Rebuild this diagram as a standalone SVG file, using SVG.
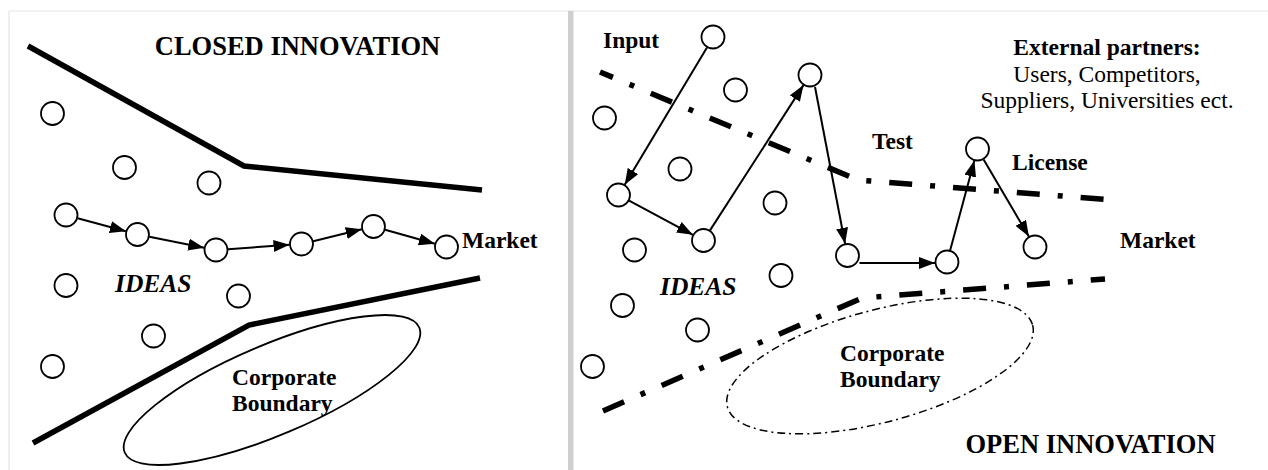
<svg xmlns="http://www.w3.org/2000/svg" width="1268" height="470" viewBox="0 0 1268 470">
<style>
.t{font-family:"Liberation Serif","Times New Roman",serif;fill:#000}
.b{font-weight:bold;font-size:23.5px}
.ti{font-weight:bold;font-size:26.5px}
.it{font-weight:bold;font-style:italic;font-size:25.5px}
.r{font-size:23.5px}
.n{fill:#fff;stroke:#000;stroke-width:1.8}
.c{stroke:#000;stroke-width:2;fill:none;marker-end:url(#ah)}
.thick{stroke:#000;stroke-width:5.5;fill:none;stroke-linejoin:miter}
.dd{stroke:#000;stroke-width:5.5;fill:none;stroke-dasharray:23 18 5 18;stroke-linejoin:round}
</style>
<defs>
<marker id="ah" markerUnits="userSpaceOnUse" markerWidth="16" markerHeight="12" refX="16" refY="6" orient="auto">
<path d="M0,0 L16,6 L0,12 z" fill="#000"/>
</marker>
</defs>
<rect width="1268" height="470" fill="#fff"/>
<g id="frame">
<line x1="9" y1="11" x2="1268" y2="11" stroke="#e4e4e4" stroke-width="1.2"/>
<line x1="9" y1="11" x2="9" y2="470" stroke="#e4e4e4" stroke-width="1.2"/>
<rect x="568" y="11" width="5.5" height="459" fill="#cfcfcf"/>
</g>
<g id="closed-boundaries">
<path class="thick" d="M28,46 L244,166 L482,190"/>
<path class="thick" d="M33,443 L249,325 L480,278"/>
<ellipse cx="272" cy="390" rx="160" ry="45" transform="rotate(-23 272 390)" fill="none" stroke="#000" stroke-width="1.8"/>
</g>
<g id="open-boundaries">
<path class="dd" d="M600,72 L858,180 L1113,200" stroke-dashoffset="9"/>
<path class="dd" d="M603,411 L862,298 L1105,279"/>
<ellipse cx="880" cy="366" rx="158" ry="56" transform="rotate(-15 880 366)" fill="none" stroke="#000" stroke-width="1.5" stroke-dasharray="8 4 2 4"/>
</g>
<g id="connectors">
<line class="c" x1="77.6" y1="218.2" x2="125.9" y2="231.3"/>
<line class="c" x1="149.3" y1="236.8" x2="204.2" y2="247.7"/>
<line class="c" x1="228" y1="249.2" x2="289.5" y2="244.8"/>
<line class="c" x1="313.2" y1="241.2" x2="361.8" y2="229.3"/>
<line class="c" x1="385.1" y1="229.7" x2="434.9" y2="243.8"/>
<line class="c" x1="707" y1="47.5" x2="624.7" y2="184.7"/>
<line class="c" x1="629.1" y1="200.7" x2="692.9" y2="234.8"/>
<line class="c" x1="710" y1="230.4" x2="803.5" y2="85.1"/>
<line class="c" x1="815" y1="87" x2="845.1" y2="243.8"/>
<line class="c" x1="859.5" y1="263" x2="935" y2="263"/>
<line class="c" x1="950.1" y1="250.4" x2="974.4" y2="160.6"/>
<line class="c" x1="983.6" y1="159.4" x2="1028.9" y2="236.6"/>
</g>
<g id="closed-nodes">
<circle id="c1" class="n" cx="52.5" cy="113.5" r="11.5"/>
<circle id="c2" class="n" cx="124.5" cy="167.5" r="11.5"/>
<circle id="c3" class="n" cx="209" cy="183" r="11.5"/>
<circle id="c4" class="n" cx="66" cy="215" r="11.5"/>
<circle id="c5" class="n" cx="137.5" cy="234.5" r="11.5"/>
<circle id="c6" class="n" cx="216" cy="250" r="11.5"/>
<circle id="c7" class="n" cx="301.5" cy="244" r="11.5"/>
<circle id="c8" class="n" cx="373.5" cy="226.5" r="11.5"/>
<circle id="c9" class="n" cx="446.5" cy="247" r="11.5"/>
<circle id="c10" class="n" cx="66" cy="285.5" r="11.5"/>
<circle id="c11" class="n" cx="238.5" cy="296" r="11.5"/>
<circle id="c12" class="n" cx="153.5" cy="336" r="11.5"/>
<circle id="c13" class="n" cx="52.5" cy="366.5" r="11.5"/>
</g>
<g id="open-nodes">
<circle id="o1" class="n" cx="713" cy="37" r="11.5"/>
<circle id="o2" class="n" cx="604.5" cy="118" r="11.5"/>
<circle id="o3" class="n" cx="735.5" cy="90" r="11.5"/>
<circle id="o4" class="n" cx="810" cy="75" r="11.5"/>
<circle id="o5" class="n" cx="680" cy="169" r="11.5"/>
<circle id="o6" class="n" cx="618.5" cy="195" r="11.5"/>
<circle id="o7" class="n" cx="775" cy="203" r="11.5"/>
<circle id="o8" class="n" cx="703.5" cy="240.5" r="11.5"/>
<circle id="o9" class="n" cx="634.5" cy="250" r="11.5"/>
<circle id="o10" class="n" cx="847.5" cy="255.5" r="11.5"/>
<circle id="o11" class="n" cx="781" cy="275.5" r="11.5"/>
<circle id="o12" class="n" cx="622.5" cy="305.5" r="11.5"/>
<circle id="o13" class="n" cx="697.5" cy="330" r="11.5"/>
<circle id="o14" class="n" cx="592.5" cy="366.5" r="11.5"/>
<circle id="o15" class="n" cx="977.5" cy="149" r="11.5"/>
<circle id="o16" class="n" cx="947" cy="262" r="11.5"/>
<circle id="o17" class="n" cx="1035" cy="247" r="11.5"/>
</g>
<g id="labels">
<text class="t ti" x="297.5" y="55" text-anchor="middle">CLOSED INNOVATION</text>
<text class="t b" x="462" y="248">Market</text>
<text class="t it" x="115" y="292">IDEAS</text>
<text class="t b" x="232" y="385">Corporate</text>
<text class="t b" x="232" y="410.5">Boundary</text>
<text class="t b" x="603" y="48">Input</text>
<text class="t b" x="872" y="149">Test</text>
<text class="t b" x="1012" y="170">License</text>
<text class="t b" x="1107" y="55" text-anchor="middle">External partners:</text>
<text class="t r" x="1107" y="82" text-anchor="middle">Users, Competitors,</text>
<text class="t r" x="1107" y="108" text-anchor="middle">Suppliers, Universities ect.</text>
<text class="t b" x="1120" y="248">Market</text>
<text class="t it" x="660" y="295">IDEAS</text>
<text class="t b" x="840" y="361">Corporate</text>
<text class="t b" x="840" y="386.5">Boundary</text>
<text class="t ti" x="1090.5" y="453" text-anchor="middle">OPEN INNOVATION</text>
</g>
</svg>
